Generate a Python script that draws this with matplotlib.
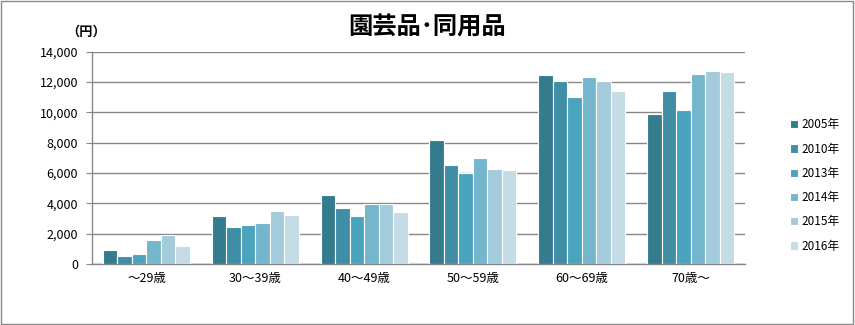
import numpy as np
import matplotlib
matplotlib.use("Agg")
import matplotlib.pyplot as plt
from matplotlib.patches import Rectangle

plt.rcParams['font.family'] = ['Noto Sans CJK JP', 'DejaVu Sans']

# age groups and yearly spending (yen)
ages = ["～29歳", "30～39歳", "40～49歳", "50～59歳", "60～69歳", "70歳～"]
years = ["2005年", "2010年", "2013年", "2014年", "2015年", "2016年"]
values = {
    "2005年": [930, 3130, 4530, 8190, 12440, 9850],
    "2010年": [530, 2470, 3670, 6540, 12030, 11370],
    "2013年": [670, 2600, 3130, 6010, 10990, 10130],
    "2014年": [1560, 2690, 3930, 7000, 12310, 12510],
    "2015年": [1930, 3490, 3930, 6280, 12030, 12690],
    "2016年": [1160, 3200, 3420, 6210, 11430, 12620],
}
colors = ["#357b8e", "#3f8ea6", "#4ba4bd", "#74b6cc", "#a4cbdb", "#c3dce6"]

fig = plt.figure(figsize=(8.55, 3.25), dpi=100)
ax = fig.add_axes([0.1076, 0.1877, 0.7637, 0.6538])

x = np.arange(len(ages))
n = len(years)
width = 0.8 / n
for i, (yr, col) in enumerate(zip(years, colors)):
    offs = (i - (n - 1) / 2) * width
    ax.bar(x + offs, values[yr], width, color=col, edgecolor="white",
           linewidth=0.8, label=yr, zorder=3)

ax.set_xlim(-0.5, len(ages) - 0.5)
ax.set_ylim(0, 14000)
ax.set_yticks(range(0, 14001, 2000))
ax.set_yticklabels([f"{v:,}" for v in range(0, 14001, 2000)], fontsize=9)
ax.set_xticks(x)
ax.set_xticklabels(ages, fontsize=9)
ax.tick_params(axis="x", length=0, pad=6)
ax.tick_params(axis="y", length=4, color="#888888", pad=6)
ax.yaxis.grid(True, color="#888888", linewidth=1, zorder=0)
ax.set_axisbelow(True)
for s in ["top", "right"]:
    ax.spines[s].set_visible(False)
for s in ["left", "bottom"]:
    ax.spines[s].set_color("#888888")
    ax.spines[s].set_linewidth(1)

fig.text(0.50, 0.915, "園芸品･同用品", fontsize=17.5, fontweight="bold",
         ha="center", va="center")
fig.text(0.101, 0.903, "（円）", fontsize=9.5, fontweight="bold",
         ha="center", va="center")

fig.legend(loc="upper left", bbox_to_anchor=(0.918, 0.65), frameon=False,
           fontsize=8.5, handlelength=0.7, handleheight=0.7, handletextpad=0.3,
           labelspacing=0.95, borderaxespad=0)

fig.patches.append(Rectangle((0.001, 0.002), 0.997, 0.995, transform=fig.transFigure,
                             fill=False, edgecolor="#888888", linewidth=1))

fig.savefig("out.png", dpi=100)
